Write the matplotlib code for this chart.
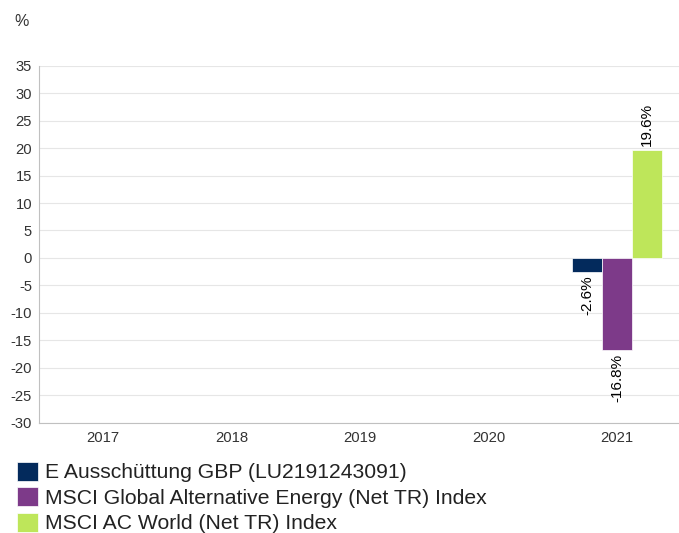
import matplotlib
matplotlib.use("Agg")
import matplotlib.pyplot as plt
import numpy as np

plt.rcParams['font.family'] = ['Liberation Sans', 'DejaVu Sans']

years = ["2017", "2018", "2019", "2020", "2021"]
series_names = [
    "E Ausschüttung GBP (LU2191243091)",
    "MSCI Global Alternative Energy (Net TR) Index",
    "MSCI AC World (Net TR) Index",
]
fund = [None, None, None, None, -2.6]
alt_energy = [None, None, None, None, -16.8]
acwi = [None, None, None, None, 19.6]
colors = ["#032A5C", "#7D3A89", "#BEE65A"]
yticks = list(range(-30, 40, 5))

W, H = 679, 533
fig = plt.figure(figsize=(W / 100, H / 100), dpi=100)
ax = fig.add_axes([39 / W, 110.3 / H, (681.5 - 39) / W, 357 / H])

x = np.arange(len(years))
bw = 0.233
offsets = [-bw, 0, bw]
handles = []
for vals, off, col, name in zip([fund, alt_energy, acwi], offsets, colors, series_names):
    xs = [xi + off for xi, v in zip(x, vals) if v is not None]
    vs = [v for v in vals if v is not None]
    b = ax.bar(xs, vs, width=bw, color=col, label=name, zorder=3,
               edgecolor="white", linewidth=0.5)
    handles.append(b)
    for xi, v in zip(xs, vs):
        if v >= 0:
            ax.text(xi, v + 0.8, f"{v:.1f}%", rotation=90, ha="center", va="bottom",
                    fontsize=11, color="#000000", zorder=4)
        else:
            ax.text(xi, v - 0.6, f"{v:.1f}%", rotation=90, ha="center", va="top",
                    fontsize=11, color="#000000", zorder=4)

ax.set_xlim(-0.5, len(years) - 0.5)
ax.set_ylim(-30, 35)
ax.set_yticks(yticks)
ax.set_yticklabels([str(t) for t in yticks])
ax.set_xticks(x)
ax.set_xticklabels(years)
ax.tick_params(axis="both", length=0, labelcolor="#333333")
ax.tick_params(axis="y", pad=5, labelsize=10.6)
ax.tick_params(axis="x", pad=6, labelsize=10.7)
ax.grid(axis="y", color="#e6e6e6", linewidth=0.8, zorder=0)
for s in ["top", "right"]:
    ax.spines[s].set_visible(False)
for s in ["left", "bottom"]:
    ax.spines[s].set_color("#c0c0c0")
    ax.spines[s].set_linewidth(0.8)

fig.text(14 / W, 1 - 21 / H, "%", fontsize=11.5, color="#333333", ha="left", va="center")

leg = fig.legend(handles=handles, labels=series_names, loc="upper left",
                 bbox_to_anchor=(11 / W, 1 - 455.5 / H), frameon=False,
                 fontsize=15.2, handlelength=0.99, handleheight=0.99,
                 handletextpad=0.34, labelspacing=0.23, borderaxespad=0,
                 borderpad=0.3)
for t in leg.get_texts():
    t.set_color("#222222")

fig.savefig("out.png", dpi=100)
